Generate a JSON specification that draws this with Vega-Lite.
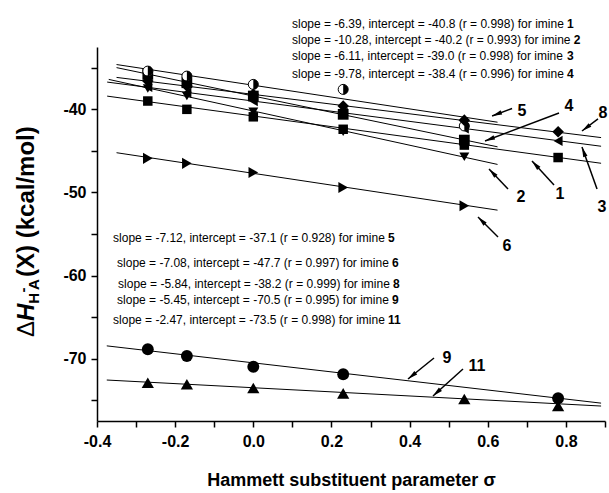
{
  "$schema": "https://vega.github.io/schema/vega-lite/v6.json",
  "width": 508,
  "height": 374,
  "autosize": "none",
  "padding": {"left": 97, "top": 47, "right": 4, "bottom": 72},
  "config": {
    "view": {"stroke": null},
    "font": "Liberation Sans",
    "axis": {"grid": false, "domainColor": "black", "domainWidth": 1.5, "tickColor": "black", "tickWidth": 1.5, "tickSize": 6, "labelColor": "black", "labelFont": "Liberation Sans", "labelFontWeight": "bold", "labelFontSize": 16, "labelFlush": false, "labelOverlap": false, "titleColor": "black", "titleFont": "Liberation Sans", "titleFontWeight": "bold"}
  },
  "encoding": {
    "x": {"field": "x", "type": "quantitative", "scale": {"domain": [-0.4, 0.9], "nice": false, "zero": false},
      "axis": {"title": "Hammett substituent parameter σ", "titleFontSize": 18, "titlePadding": 22, "labelPadding": 6,
        "values": [-0.4, -0.3, -0.2, -0.1, 0, 0.1, 0.2, 0.3, 0.4, 0.5, 0.6, 0.7, 0.8, 0.9],
        "labelExpr": "round(datum.value*10) % 2 == 0 ? replace(format(datum.value, '.1f'), '\u2212', '-') : ''"}},
    "y": {"field": "y", "type": "quantitative", "scale": {"domain": [-77.5, -32.5], "nice": false, "zero": false},
      "axis": {"title": null, "labelPadding": 5,
        "values": [-75, -70, -65, -60, -55, -50, -45, -40, -35],
        "labelExpr": "datum.value % 10 == 0 ? replace(format(datum.value, 'd'), '\u2212', '-') : ''"}}
  },
  "layer": [
    {
      "data": {"values": [
        {"s": "1", "x": -0.374, "y": -38.41, "x2": 0.89, "y2": -46.49},
        {"s": "2", "x": -0.37, "y": -36.40, "x2": 0.625, "y2": -46.63},
        {"s": "3", "x": -0.374, "y": -36.72, "x2": 0.89, "y2": -44.44},
        {"s": "4", "x": -0.35, "y": -34.98, "x2": 0.625, "y2": -44.51},
        {"s": "5", "x": -0.35, "y": -34.61, "x2": 0.625, "y2": -41.55},
        {"s": "6", "x": -0.35, "y": -45.22, "x2": 0.625, "y2": -52.13},
        {"s": "8", "x": -0.35, "y": -36.16, "x2": 0.89, "y2": -43.40},
        {"s": "9", "x": -0.375, "y": -68.46, "x2": 0.89, "y2": -75.35},
        {"s": "11", "x": -0.375, "y": -72.57, "x2": 0.89, "y2": -75.70}
      ]},
      "mark": {"type": "rule", "color": "black", "strokeWidth": 1},
      "encoding": {"x2": {"field": "x2"}, "y2": {"field": "y2"}}
    },
    {
      "data": {"name": "arrows", "values": [
        {"lab": "5", "x": 0.611, "y": -40.80, "xt": 0.6622, "yt": -39.90},
        {"lab": "4", "x": 0.5929, "y": -43.81, "xt": 0.7823, "yt": -40.44},
        {"lab": "8", "x": 0.8411, "y": -42.61, "xt": 0.8821, "yt": -41.16},
        {"lab": "2", "x": 0.6032, "y": -47.18, "xt": 0.6518, "yt": -49.59},
        {"lab": "1", "x": 0.7132, "y": -46.22, "xt": 0.7695, "yt": -49.10},
        {"lab": "3", "x": 0.8411, "y": -44.53, "xt": 0.8796, "yt": -49.59},
        {"lab": "6", "x": 0.575, "y": -52.95, "xt": 0.6262, "yt": -55.36},
        {"lab": "9", "x": 0.3959, "y": -72.45, "xt": 0.4624, "yt": -69.92},
        {"lab": "11", "x": 0.4598, "y": -74.49, "xt": 0.5366, "yt": -71.24}
      ]},
      "layer": [
        {
          "mark": {"type": "rule", "color": "black", "strokeWidth": 1.5},
          "encoding": {"x2": {"field": "xt"}, "y2": {"field": "yt"}}
        },
        {
          "transform": [{"calculate": "atan2((datum.x - datum.xt) * 390.77, (datum.y - datum.yt) * 8.311) * 180 / PI", "as": "ang"}],
          "mark": {"type": "point", "shape": "M0,0L-0.45,2L0.45,2Z", "filled": true, "color": "black", "opacity": 1, "size": 100, "strokeWidth": 0},
          "encoding": {"angle": {"field": "ang", "type": "quantitative", "scale": null}}
        }
      ]
    },
    {
      "data": {"values": [
        {"s": "1", "x": -0.27, "y": -39.0}, {"s": "1", "x": -0.17, "y": -40.0}, {"s": "1", "x": 0, "y": -40.9}, {"s": "1", "x": 0.23, "y": -42.4}, {"s": "1", "x": 0.54, "y": -44.3}, {"s": "1", "x": 0.78, "y": -45.8},
        {"s": "2", "x": -0.27, "y": -37.5}, {"s": "2", "x": -0.17, "y": -38.4}, {"s": "2", "x": 0, "y": -40.3}, {"s": "2", "x": 0.23, "y": -42.7}, {"s": "2", "x": 0.54, "y": -45.7},
        {"s": "3", "x": -0.27, "y": -37.3}, {"s": "3", "x": -0.17, "y": -38.0}, {"s": "3", "x": 0, "y": -39.0}, {"s": "3", "x": 0.23, "y": -40.4}, {"s": "3", "x": 0.54, "y": -42.3}, {"s": "3", "x": 0.78, "y": -43.8},
        {"s": "4", "x": -0.27, "y": -35.8}, {"s": "4", "x": -0.17, "y": -36.8}, {"s": "4", "x": 0, "y": -38.4}, {"s": "4", "x": 0.23, "y": -40.6}, {"s": "4", "x": 0.54, "y": -43.7}
      ]},
      "mark": {"type": "point", "filled": true, "color": "black", "opacity": 1},
      "encoding": {
        "shape": {"field": "s", "type": "nominal", "legend": null, "scale": {"domain": ["1", "2", "3", "4", "6", "8", "9", "11"], "range": ["square", "triangle-down", "triangle-left", "square", "triangle-right", "diamond", "circle", "triangle-up"]}},
        "size": {"field": "s", "type": "nominal", "legend": null, "scale": {"domain": ["1", "2", "3", "4", "6", "8", "9", "11"], "range": [90, 150, 150, 90, 150, 140, 85, 150]}}
      }
    },
    {
      "data": {"name": "im5", "values": [
        {"x": -0.27, "y": -35.4}, {"x": -0.17, "y": -36.0}, {"x": 0, "y": -37.0}, {"x": 0.23, "y": -37.6}, {"x": 0.54, "y": -42.0}
      ]},
      "layer": [
        {"mark": {"type": "point", "shape": "circle", "filled": true, "fill": "white", "stroke": "black", "strokeWidth": 1, "opacity": 1, "size": 100}},
        {"mark": {"type": "point", "shape": "M0,-1A1,1,0,0,1,0,1Z", "filled": true, "color": "black", "opacity": 1, "size": 100, "strokeWidth": 0}}
      ]
    },
    {
      "data": {"values": [
        {"s": "6", "x": -0.27, "y": -45.9}, {"s": "6", "x": -0.17, "y": -46.5}, {"s": "6", "x": 0, "y": -47.6}, {"s": "6", "x": 0.23, "y": -49.4}, {"s": "6", "x": 0.54, "y": -51.6},
        {"s": "8", "x": -0.27, "y": -36.6}, {"s": "8", "x": -0.17, "y": -37.2}, {"s": "8", "x": 0, "y": -38.2}, {"s": "8", "x": 0.23, "y": -39.6}, {"s": "8", "x": 0.54, "y": -41.3}, {"s": "8", "x": 0.78, "y": -42.7},
        {"s": "9", "x": -0.27, "y": -68.87}, {"s": "9", "x": -0.17, "y": -69.68}, {"s": "9", "x": 0, "y": -70.97}, {"s": "9", "x": 0.23, "y": -71.88}, {"s": "9", "x": 0.78, "y": -74.77},
        {"s": "11", "x": -0.27, "y": -72.89}, {"s": "11", "x": -0.17, "y": -73.08}, {"s": "11", "x": 0, "y": -73.53}, {"s": "11", "x": 0.23, "y": -74.17}, {"s": "11", "x": 0.54, "y": -74.85}, {"s": "11", "x": 0.78, "y": -75.70}
      ]},
      "mark": {"type": "point", "filled": true, "color": "black", "opacity": 1},
      "encoding": {
        "shape": {"field": "s", "type": "nominal", "legend": null, "scale": {"domain": ["1", "2", "3", "4", "6", "8", "9", "11"], "range": ["square", "triangle-down", "triangle-left", "square", "triangle-right", "diamond", "circle", "triangle-up"]}},
        "size": {"field": "s", "type": "nominal", "legend": null, "scale": {"domain": ["1", "2", "3", "4", "6", "8", "9", "11"], "range": [90, 150, 150, 90, 150, 140, 85, 150]}}
      }
    },
    {
      "data": {"values": [
        {"x": 0.099, "y": -29.73, "t": "slope = -6.39, intercept = -40.8 (r = 0.998) for imine"},
        {"x": 0.099, "y": -31.66, "t": "slope = -10.28, intercept = -40.2 (r = 0.993) for imine"},
        {"x": 0.099, "y": -33.58, "t": "slope = -6.11, intercept = -39.0 (r = 0.998) for imine"},
        {"x": 0.099, "y": -35.75, "t": "slope = -9.78, intercept = -38.4 (r = 0.996) for imine"},
        {"x": -0.3589, "y": -55.48, "t": "slope = -7.12, intercept = -37.1 (r = 0.928) for imine"},
        {"x": -0.3487, "y": -58.49, "t": "slope = -7.08, intercept = -47.7 (r = 0.997) for imine"},
        {"x": -0.3461, "y": -61.02, "t": "slope = -5.84, intercept = -38.2 (r = 0.999) for imine"},
        {"x": -0.3487, "y": -62.94, "t": "slope = -5.45, intercept = -70.5 (r = 0.995) for imine"},
        {"x": -0.3589, "y": -65.35, "t": "slope = -2.47, intercept = -73.5 (r = 0.998) for imine"}
      ]},
      "mark": {"type": "text", "align": "left", "baseline": "middle", "fontSize": 12, "font": "Liberation Sans", "color": "black"},
      "encoding": {"text": {"field": "t"}}
    },
    {
      "data": {"values": [
        {"x": 0.8028, "y": -29.73, "t": "1"},
        {"x": 0.82, "y": -31.66, "t": "2"},
        {"x": 0.8028, "y": -33.58, "t": "3"},
        {"x": 0.8028, "y": -35.75, "t": "4"},
        {"x": 0.3447, "y": -55.48, "t": "5"},
        {"x": 0.3549, "y": -58.49, "t": "6"},
        {"x": 0.3575, "y": -61.02, "t": "8"},
        {"x": 0.3549, "y": -62.94, "t": "9"},
        {"x": 0.3447, "y": -65.35, "t": "11"}
      ]},
      "mark": {"type": "text", "align": "left", "baseline": "middle", "fontSize": 12, "fontWeight": "bold", "font": "Liberation Sans", "color": "black"},
      "encoding": {"text": {"field": "t"}}
    },
    {
      "data": {"values": [
        {"x": 0.6876, "y": -40.20, "t": "5"},
        {"x": 0.8079, "y": -39.60, "t": "4"},
        {"x": 0.8949, "y": -40.44, "t": "8"},
        {"x": 0.6851, "y": -50.55, "t": "2"},
        {"x": 0.7849, "y": -50.19, "t": "1"},
        {"x": 0.8923, "y": -51.75, "t": "3"},
        {"x": 0.6492, "y": -56.44, "t": "6"},
        {"x": 0.4957, "y": -69.92, "t": "9"},
        {"x": 0.5725, "y": -70.88, "t": "11"}
      ]},
      "mark": {"type": "text", "align": "center", "baseline": "middle", "fontSize": 16, "fontWeight": "bold", "font": "Liberation Sans", "color": "black"},
      "encoding": {"text": {"field": "t"}}
    },
    {
      "data": {"values": [{"x": -0.5612, "y": -67.39, "t": "Δ"}]},
      "mark": {"type": "text", "align": "left", "baseline": "alphabetic", "angle": 270, "fontSize": 24, "font": "Liberation Sans", "color": "black"},
      "encoding": {"text": {"field": "t"}}
    },
    {
      "data": {"values": [{"x": -0.5612, "y": -65.47, "t": "H"}]},
      "mark": {"type": "text", "align": "left", "baseline": "alphabetic", "angle": 270, "fontSize": 24, "fontWeight": "bold", "fontStyle": "italic", "font": "Liberation Sans", "color": "black"},
      "encoding": {"text": {"field": "t"}}
    },
    {
      "data": {"values": [{"x": -0.5484, "y": -63.39, "t": "H"}, {"x": -0.5484, "y": -61.74, "t": "A"}]},
      "mark": {"type": "text", "align": "left", "baseline": "alphabetic", "angle": 270, "fontSize": 15, "fontWeight": "bold", "font": "Liberation Sans", "color": "black"},
      "encoding": {"text": {"field": "t"}}
    },
    {
      "data": {"values": [{"x": -0.5765, "y": -62.04, "t": "-"}]},
      "mark": {"type": "text", "align": "left", "baseline": "alphabetic", "angle": 270, "fontSize": 15, "fontWeight": "bold", "font": "Liberation Sans", "color": "black"},
      "encoding": {"text": {"field": "t"}}
    },
    {
      "data": {"values": [{"x": -0.5612, "y": -60.17, "t": "(X) (kcal/mol)"}]},
      "mark": {"type": "text", "align": "left", "baseline": "alphabetic", "angle": 270, "fontSize": 24, "fontWeight": "bold", "font": "Liberation Sans", "color": "black"},
      "encoding": {"text": {"field": "t"}}
    }
  ]
}
